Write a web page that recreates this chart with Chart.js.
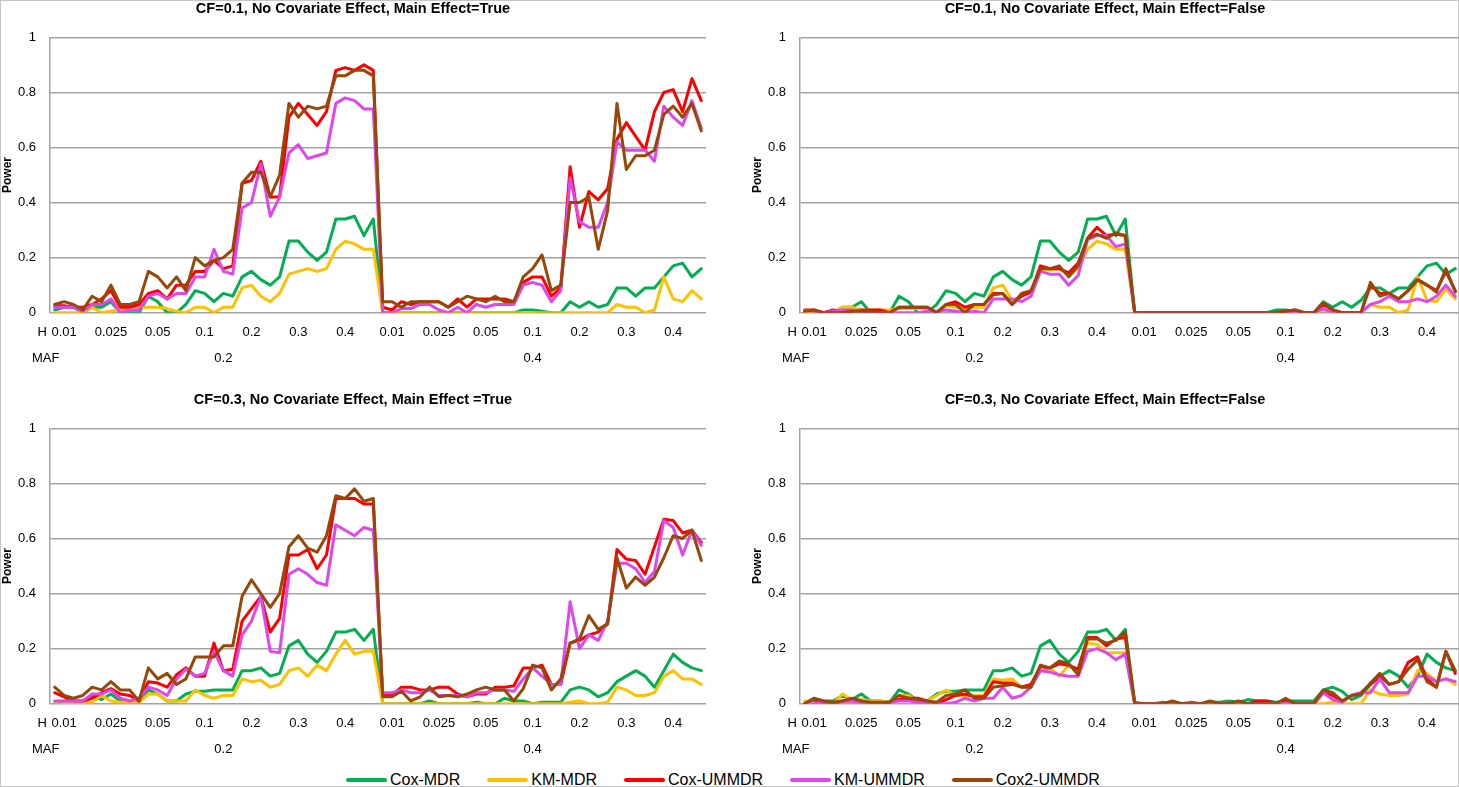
<!DOCTYPE html>
<html>
<head>
<meta charset="utf-8">
<script src="https://cdn.jsdelivr.net/npm/chart.js@4.4.1/dist/chart.umd.min.js"></script>
<style>
html,body{margin:0;padding:0;background:#fff;}
#page{position:relative;width:1459px;height:787px;overflow:hidden;background:#fff;}
#frame{position:absolute;left:0;top:0;width:1459px;height:787px;box-sizing:border-box;border:1px solid #c6c6c6;pointer-events:none;}
canvas{position:absolute;}
#legend{position:absolute;left:346px;top:770px;height:20px;display:flex;align-items:center;font-family:'Liberation Sans',Arial,sans-serif;font-size:16px;color:#000;white-space:nowrap;}
.item{display:flex;align-items:center;margin-right:27px;}
.sw{width:41px;height:4px;margin-right:3px;border-radius:2px;}
</style>
</head>
<body>
<div id="page"><div id="legend"></div><div id="frame"></div></div>
<script>
// ---------- categories ----------
const mafLevels = ['0.2', '0.4'];
const hLevels = ['0.01', '0.025', '0.05', '0.1', '0.2', '0.3', '0.4'];
const repsPerH = 5;
const categories = [];
mafLevels.forEach(m => hLevels.forEach(h => { for (let r = 1; r <= repsPerH; r++) categories.push('MAF ' + m + ', H ' + h + ' #' + r); }));

const seriesNames = ['Cox-MDR', 'KM-MDR', 'Cox-UMMDR', 'KM-UMMDR', 'Cox2-UMMDR'];
const panelTitles = [
  'CF=0.1, No Covariate Effect, Main Effect=True',
  'CF=0.1, No Covariate Effect, Main Effect=False',
  'CF=0.3, No Covariate Effect, Main Effect =True',
  'CF=0.3, No Covariate Effect, Main Effect=False'
];

// ---------- panel 1: CF=0.1, Main Effect=True ----------
const tlCoxMDR = [0.01,0.02,0.02,0,0.02, 0.02,0.04,0,0,0, 0.06,0.04,0,0,0.03, 0.08,0.07,0.04,0.07,0.06, 0.13,0.15,0.12,0.10,0.13, 0.26,0.26,0.22,0.19,0.22, 0.34,0.34,0.35,0.28,0.34,
  0,0,0,0,0, 0,0,0,0,0, 0,0,0,0,0, 0.01,0.01,0.005,0,0, 0.04,0.02,0.04,0.02,0.03, 0.09,0.09,0.06,0.09,0.09, 0.13,0.17,0.18,0.13,0.16];
const tlKmMDR = [0,0,0,0,0.02, 0,0.005,0.01,0.02,0.02, 0.02,0.02,0.015,0.005,0, 0.02,0.02,0,0.02,0.02, 0.09,0.10,0.06,0.04,0.07, 0.14,0.15,0.16,0.15,0.16, 0.23,0.26,0.25,0.23,0.23,
  0,0,0,0,0, 0,0,0,0,0, 0,0,0,0,0, 0,0,0,0,0, 0,0,0,0,0, 0.03,0.02,0.02,0,0.01, 0.13,0.05,0.04,0.08,0.05];
const tlCoxUMMDR = [0.025,0.025,0.02,0.02,0.03, 0.05,0.08,0.02,0.02,0.03, 0.07,0.08,0.05,0.10,0.10, 0.15,0.15,0.19,0.16,0.17, 0.47,0.48,0.55,0.42,0.42, 0.71,0.76,0.72,0.68,0.73, 0.88,0.89,0.88,0.90,0.88,
  0.02,0.01,0.04,0.03,0.04, 0.04,0.04,0.02,0.05,0.02, 0.05,0.05,0.05,0.05,0.04, 0.11,0.13,0.13,0.06,0.09, 0.53,0.31,0.44,0.41,0.45, 0.63,0.69,0.64,0.59,0.73, 0.80,0.81,0.73,0.85,0.77];
const tlKmUMMDR = [0.02,0.02,0.02,0.005,0.03, 0.03,0.05,0,0.01,0.01, 0.06,0.07,0.05,0.07,0.07, 0.13,0.13,0.23,0.15,0.14, 0.38,0.40,0.54,0.35,0.42, 0.58,0.61,0.56,0.57,0.58, 0.76,0.78,0.77,0.74,0.74,
  0,0,0.015,0.015,0.03, 0.03,0.01,0,0.02,0, 0.03,0.02,0.03,0.03,0.03, 0.10,0.11,0.10,0.04,0.08, 0.49,0.33,0.31,0.31,0.40, 0.62,0.59,0.59,0.59,0.55, 0.75,0.71,0.68,0.77,0.67];
const tlCox2UMMDR = [0.03,0.04,0.03,0.01,0.06, 0.04,0.10,0.03,0.03,0.04, 0.15,0.13,0.09,0.13,0.08, 0.20,0.17,0.19,0.20,0.23, 0.47,0.51,0.51,0.42,0.50, 0.76,0.71,0.75,0.74,0.75, 0.86,0.86,0.88,0.88,0.86,
  0.04,0.04,0.02,0.04,0.04, 0.04,0.04,0.02,0.04,0.06, 0.05,0.04,0.06,0.04,0.04, 0.13,0.16,0.21,0.08,0.10, 0.40,0.40,0.42,0.23,0.37, 0.76,0.52,0.57,0.57,0.59, 0.72,0.75,0.71,0.76,0.66];

// ---------- panel 2: CF=0.1, Main Effect=False ----------
const trCoxMDR = [0.005,0.005,0,0,0.02, 0.02,0.04,0,0,0, 0.06,0.04,0,0,0.03, 0.08,0.07,0.04,0.07,0.06, 0.13,0.15,0.12,0.10,0.13, 0.26,0.26,0.22,0.19,0.22, 0.34,0.34,0.35,0.28,0.34,
  0,0,0,0,0, 0,0,0,0,0, 0,0,0,0,0, 0.01,0.01,0.005,0,0, 0.04,0.02,0.04,0.02,0.045, 0.09,0.09,0.07,0.09,0.09, 0.13,0.17,0.18,0.14,0.16];
const trKmMDR = [0,0,0,0,0.02, 0.02,0.01,0.01,0.01,0.01, 0.015,0.015,0.015,0.015,0, 0.025,0.02,0.015,0.02,0.02, 0.09,0.10,0.045,0.06,0.08, 0.16,0.155,0.16,0.135,0.16, 0.23,0.26,0.25,0.23,0.23,
  0,0,0,0,0, 0,0,0,0,0, 0,0,0,0,0, 0,0,0,0,0, 0.01,0,0,0,0, 0.03,0.02,0.02,0,0.01, 0.13,0.045,0.04,0.085,0.05];
const trCoxUMMDR = [0.01,0.01,0,0.01,0.005, 0.005,0.01,0.01,0.01,0, 0.02,0.02,0.02,0.02,0, 0.03,0.04,0.02,0.03,0.03, 0.07,0.07,0.03,0.06,0.075, 0.17,0.16,0.16,0.145,0.18, 0.27,0.31,0.28,0.285,0.28,
  0,0,0,0,0, 0,0,0,0,0, 0,0,0,0,0, 0,0.005,0.01,0,0, 0.03,0.01,0,0,0, 0.10,0.07,0.07,0.05,0.08, 0.12,0.10,0.08,0.15,0.08];
const trKmUMMDR = [0.01,0.005,0,0.005,0.01, 0.01,0.005,0,0,0, 0,0,0,0.005,0.005, 0.01,0.005,0,0.005,0, 0.05,0.05,0.05,0.04,0.06, 0.15,0.14,0.14,0.10,0.135, 0.265,0.28,0.28,0.24,0.25,
  0,0,0,0,0, 0,0,0,0,0, 0,0,0,0,0, 0,0,0,0,0, 0.015,0,0,0,0, 0.03,0.04,0.06,0.04,0.04, 0.05,0.04,0.06,0.10,0.06];
const trCox2UMMDR = [0.005,0.01,0,0,0, 0.005,0.005,0.005,0,0, 0.02,0.02,0.02,0.02,0, 0.03,0.03,0,0.03,0.03, 0.065,0.07,0.03,0.07,0.08, 0.16,0.16,0.17,0.13,0.17, 0.27,0.285,0.27,0.29,0.28,
  0,0,0,0,0, 0,0,0,0,0, 0,0,0,0,0, 0,0.005,0.01,0,0, 0.035,0.01,0,0,0, 0.11,0.06,0.07,0.05,0.08, 0.12,0.10,0.075,0.16,0.075];

// ---------- panel 3: CF=0.3, Main Effect=True ----------
const blCoxMDR = [0,0.01,0.01,0.01,0.03, 0.015,0.035,0.01,0.01,0.005, 0.05,0.035,0.01,0.01,0.035, 0.045,0.045,0.05,0.05,0.05, 0.12,0.12,0.13,0.10,0.11, 0.21,0.23,0.18,0.15,0.19, 0.26,0.26,0.27,0.23,0.27,
  0,0,0,0,0, 0.01,0,0,0,0, 0.005,0,0,0.02,0.01, 0.01,0,0.005,0.005,0.005, 0.05,0.06,0.05,0.025,0.04, 0.08,0.10,0.12,0.10,0.06, 0.12,0.18,0.15,0.13,0.12];
const blKmMDR = [0,0,0,0,0.005, 0.03,0.01,0.005,0.005,0.005, 0.035,0.035,0.01,0.01,0.01, 0.05,0.03,0.02,0.03,0.03, 0.09,0.08,0.085,0.06,0.07, 0.12,0.13,0.10,0.14,0.12, 0.18,0.23,0.18,0.19,0.19,
  0,0,0,0,0, 0,0,0,0,0, 0,0,0,0,0, 0,0,0,0,0, 0.005,0.01,0,0,0.005, 0.06,0.05,0.03,0.03,0.04, 0.10,0.12,0.09,0.09,0.07];
const blCoxUMMDR = [0.04,0.025,0.01,0.01,0.02, 0.04,0.055,0.035,0.03,0.01, 0.08,0.075,0.06,0.105,0.13, 0.10,0.10,0.22,0.12,0.125, 0.30,0.345,0.39,0.26,0.31, 0.54,0.54,0.56,0.49,0.54, 0.745,0.745,0.745,0.725,0.725,
  0.03,0.03,0.06,0.06,0.05, 0.05,0.06,0.06,0.035,0.025, 0.035,0.035,0.06,0.06,0.065, 0.13,0.13,0.14,0.07,0.07, 0.22,0.23,0.25,0.26,0.29, 0.56,0.525,0.52,0.47,0.57, 0.67,0.665,0.62,0.63,0.585];
const blKmUMMDR = [0.01,0.01,0.01,0.01,0.035, 0.035,0.05,0.02,0.01,0.02, 0.06,0.05,0.03,0.09,0.125, 0.10,0.11,0.19,0.12,0.10, 0.25,0.30,0.39,0.19,0.185, 0.47,0.49,0.47,0.44,0.43, 0.65,0.63,0.61,0.64,0.63,
  0.04,0.04,0.05,0.04,0.04, 0.05,0.03,0.03,0.03,0.025, 0.04,0.04,0.05,0.05,0.045, 0.09,0.13,0.10,0.07,0.07, 0.37,0.20,0.25,0.23,0.30, 0.51,0.51,0.49,0.44,0.48, 0.665,0.64,0.54,0.63,0.575];
const blCox2UMMDR = [0.06,0.03,0.02,0.03,0.06, 0.05,0.08,0.05,0.05,0.01, 0.13,0.09,0.11,0.07,0.09, 0.17,0.17,0.17,0.21,0.21, 0.39,0.45,0.40,0.35,0.40, 0.57,0.61,0.565,0.55,0.61, 0.755,0.745,0.78,0.735,0.745,
  0.025,0.025,0.045,0.01,0.025, 0.06,0.025,0.03,0.025,0.035, 0.05,0.06,0.05,0.05,0.01, 0.055,0.14,0.13,0.05,0.09, 0.22,0.235,0.32,0.27,0.29, 0.53,0.42,0.46,0.43,0.46, 0.53,0.61,0.60,0.63,0.52];

// ---------- panel 4: CF=0.3, Main Effect=False ----------
const brCoxMDR = [0,0.01,0.01,0.01,0.03, 0.015,0.035,0.01,0.01,0.005, 0.05,0.035,0.01,0.01,0.035, 0.045,0.045,0.05,0.05,0.05, 0.12,0.12,0.13,0.10,0.11, 0.21,0.23,0.18,0.15,0.19, 0.26,0.26,0.27,0.23,0.27,
  0.005,0,0,0.005,0, 0,0.005,0,0.005,0.005, 0.01,0.005,0.015,0.01,0.01, 0.005,0.01,0.01,0.01,0.01, 0.05,0.06,0.045,0.015,0.03, 0.07,0.10,0.12,0.10,0.06, 0.10,0.18,0.15,0.13,0.12];
const brKmMDR = [0.01,0,0,0,0.035, 0.015,0.015,0.01,0.01,0.005, 0.03,0.03,0.01,0.01,0.03, 0.05,0.03,0.03,0.03,0.03, 0.09,0.085,0.09,0.06,0.07, 0.12,0.13,0.10,0.14,0.12, 0.22,0.215,0.185,0.185,0.185,
  0,0,0,0,0, 0,0,0,0,0, 0,0,0,0,0, 0,0,0,0,0, 0,0.005,0,0,0, 0.05,0.035,0.03,0.03,0.035, 0.12,0.11,0.08,0.09,0.07];
const brCoxUMMDR = [0,0.02,0,0,0.01, 0.01,0.01,0,0,0.005, 0.015,0.02,0.02,0.01,0, 0.015,0.03,0.035,0.025,0.025, 0.08,0.075,0.075,0.06,0.07, 0.135,0.13,0.145,0.14,0.125, 0.24,0.24,0.21,0.235,0.24,
  0,0,0,0,0, 0,0,0,0,0, 0,0,0,0.01,0.01, 0,0.015,0,0,0, 0.04,0.03,0.01,0.03,0.04, 0.07,0.10,0.07,0.08,0.15, 0.17,0.09,0.06,0.19,0.11];
const brKmUMMDR = [0,0,0.005,0,0.01, 0.01,0.005,0,0,0.005, 0.01,0.01,0.005,0,0, 0,0.005,0.02,0.01,0.02, 0.02,0.06,0.02,0.03,0.06, 0.12,0.115,0.105,0.10,0.10, 0.19,0.20,0.185,0.16,0.18,
  0,0,0,0,0, 0,0,0,0,0, 0,0,0,0,0, 0,0,0,0,0, 0.04,0.015,0.005,0.03,0.04, 0.04,0.09,0.04,0.04,0.04, 0.10,0.10,0.08,0.09,0.08];
const brCox2UMMDR = [0,0.02,0.01,0.005,0.01, 0.02,0.01,0.005,0.005,0.005, 0.03,0.02,0.015,0.01,0.005, 0.03,0.035,0.05,0.02,0.02, 0.06,0.065,0.07,0.06,0.06, 0.14,0.13,0.155,0.145,0.105, 0.235,0.235,0.22,0.23,0.26,
  0,0,0,0,0.01, 0,0,0,0.01,0, 0,0.01,0,0,0, 0,0.02,0,0,0, 0.05,0.04,0.01,0.03,0.035, 0.075,0.11,0.07,0.08,0.125, 0.16,0.08,0.06,0.19,0.12];

// ---------- styling ----------
const colors = ['#00B050', '#FFC000', '#FF0000', '#E046F0', '#974806'];
const FONT = "'Liberation Sans', Arial, sans-serif";
const GRID = '#a3a3a3';
const CW = 710, CH = 372;
const MAF_LABEL_AT = [18, 51];

const groupLabels = {
  id: 'groupLabels',
  afterDraw(chart) {
    const {ctx, chartArea: ca} = chart;
    const x = chart.scales.x;
    ctx.save();
    ctx.fillStyle = '#000';
    ctx.font = '13px ' + FONT;
    ctx.textBaseline = 'middle';
    const yH = ca.bottom + 19.5, yM = ca.bottom + 45.5;
    ctx.textAlign = 'right';
    ctx.fillText('H', ca.left - 3, yH);
    ctx.textAlign = 'left';
    ctx.fillText('MAF', ca.left - 18, yM);
    ctx.textAlign = 'center';
    mafLevels.forEach((m, k) => ctx.fillText(m, x.getPixelForValue(MAF_LABEL_AT[k]), yM));
    ctx.restore();
  }
};

function makePanel(left, top, padRight, title, series) {
  const cv = document.createElement('canvas');
  cv.width = CW; cv.height = CH;
  cv.style.left = left + 'px'; cv.style.top = top + 'px';
  cv.style.width = CW + 'px'; cv.style.height = CH + 'px';
  document.getElementById('page').appendChild(cv);
  new Chart(cv, {
    type: 'line',
    data: {
      labels: categories,
      datasets: series.map((d, k) => ({
        label: seriesNames[k], data: d,
        borderColor: colors[k], backgroundColor: colors[k],
        borderWidth: 3, pointRadius: 0, tension: 0, fill: false,
        borderJoinStyle: 'round', borderCapStyle: 'round',
        order: series.length - k
      }))
    },
    options: {
      responsive: false, animation: false, events: [],
      layout: {padding: {left: 0, right: padRight, top: 0, bottom: 0}},
      plugins: {
        legend: {display: false}, tooltip: {enabled: false},
        title: {display: true, text: title, color: '#000',
          font: {family: FONT, size: 14.5, weight: 'bold', lineHeight: 1.2},
          padding: {top: 0, bottom: 19.9}}
      },
      scales: {
        x: {
          type: 'category', offset: true,
          grid: {display: false}, border: {display: false},
          ticks: {autoSkip: false, maxRotation: 0, minRotation: 0, padding: 4, color: '#000',
            font: {family: FONT, size: 13},
            callback: (v, i) => (i % repsPerH === 1 ? hLevels[Math.floor(i / repsPerH) % hLevels.length] : '')},
          afterFit: (sc) => { sc.height = CH - 312.7; }
        },
        y: {
          min: 0, max: 1,
          ticks: {stepSize: 0.2, padding: 14, color: '#000', font: {family: FONT, size: 13},
            callback: (v) => String(Number(v.toFixed(1)))},
          grid: {color: GRID, lineWidth: 1.5, drawTicks: false},
          border: {display: true, color: GRID, width: 1.5},
          title: {display: true, text: 'Power', color: '#000', font: {family: FONT, size: 12, weight: 'bold'}, padding: 0},
          afterFit: (sc) => { sc.width = 50; }
        }
      }
    },
    plugins: [groupLabels]
  });
}

makePanel(0, 0, 4, panelTitles[0], [tlCoxMDR, tlKmMDR, tlCoxUMMDR, tlKmUMMDR, tlCox2UMMDR]);
makePanel(750, 0, 0, panelTitles[1], [trCoxMDR, trKmMDR, trCoxUMMDR, trKmUMMDR, trCox2UMMDR]);
makePanel(0, 391, 4, panelTitles[2], [blCoxMDR, blKmMDR, blCoxUMMDR, blKmUMMDR, blCox2UMMDR]);
makePanel(750, 391, 0, panelTitles[3], [brCoxMDR, brKmMDR, brCoxUMMDR, brKmUMMDR, brCox2UMMDR]);

// ---------- legend ----------
const lg = document.getElementById('legend');
seriesNames.forEach((n, k) => {
  const it = document.createElement('div'); it.className = 'item';
  const sw = document.createElement('span'); sw.className = 'sw'; sw.style.background = colors[k];
  const tx = document.createElement('span'); tx.textContent = n;
  it.appendChild(sw); it.appendChild(tx); lg.appendChild(it);
});
</script>
</body>
</html>
